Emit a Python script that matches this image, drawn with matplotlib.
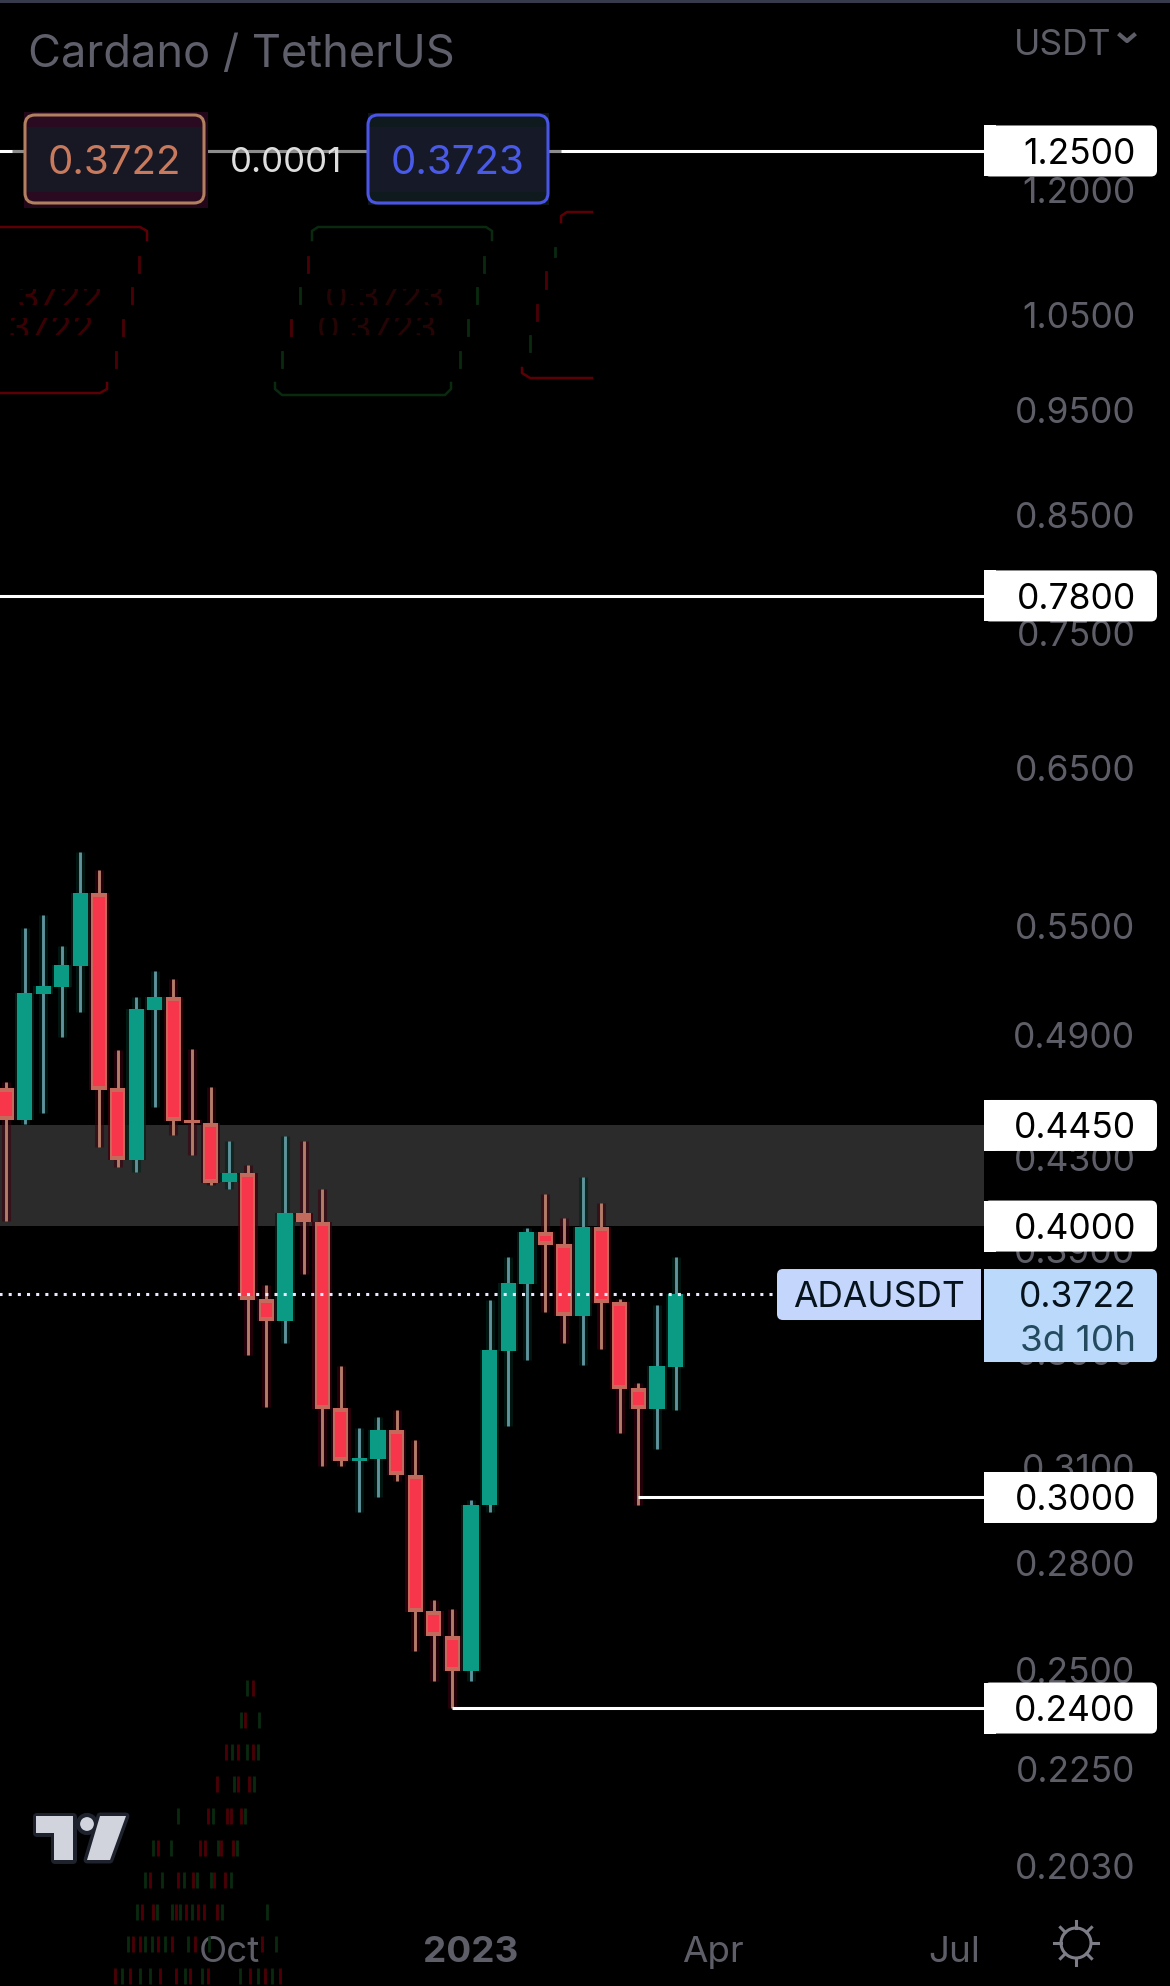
import matplotlib
matplotlib.use("Agg")
import matplotlib.pyplot as plt
from matplotlib.patches import FancyBboxPatch, Rectangle, Polygon, Circle
from matplotlib.ticker import FixedLocator, FixedFormatter, NullLocator
from matplotlib.transforms import Bbox
import numpy as np

plt.rcParams['font.family'] = ['Inter', 'DejaVu Sans']

# weekly candles, one week per step on the x axis
opens = [0.4630, 0.4476, 0.5115, 0.5153, 0.5269, 0.5693, 0.4630, 0.4290, 0.5029, 0.5099, 0.4476, 0.4462, 0.4191,
         0.4231, 0.3702, 0.3617, 0.4055, 0.4017, 0.3298, 0.3118, 0.3125, 0.3222, 0.3073, 0.2660, 0.2591, 0.2496,
         0.2976, 0.3504, 0.3762, 0.3975, 0.3925, 0.3636, 0.3996, 0.3691, 0.3369, 0.3295, 0.3445]
highs = [0.4660, 0.5485, 0.5562, 0.5382, 0.5946, 0.5833, 0.4820, 0.5099, 0.5241, 0.5197, 0.4825, 0.4635, 0.4377,
         0.4267, 0.3758, 0.4400, 0.4377, 0.4160, 0.3449, 0.3229, 0.3267, 0.3291, 0.3189, 0.2691, 0.2666, 0.2992,
         0.3698, 0.3871, 0.3992, 0.4138, 0.4034, 0.4213, 0.4099, 0.3702, 0.3387, 0.3679, 0.3871]
lows = [0.4021, 0.4457, 0.4509, 0.4887, 0.5018, 0.4350, 0.4258, 0.4236, 0.4538, 0.4405, 0.4313, 0.4178, 0.4160,
        0.3489, 0.3302, 0.3534, 0.3802, 0.3102, 0.3102, 0.2954, 0.3001, 0.3053, 0.2550, 0.2470, 0.2400, 0.2470,
        0.2954, 0.3236, 0.3471, 0.3652, 0.3534, 0.3452, 0.3511, 0.3212, 0.2976, 0.3158, 0.3291]
closes = [0.4476, 0.5120, 0.5159, 0.5275, 0.5693, 0.4620, 0.4290, 0.5034, 0.5099, 0.4471, 0.4462, 0.4187, 0.4231,
          0.3698, 0.3617, 0.4055, 0.4017, 0.3295, 0.3118, 0.3128, 0.3222, 0.3073, 0.2657, 0.2591, 0.2496, 0.2976,
          0.3508, 0.3766, 0.3975, 0.3920, 0.3636, 0.3996, 0.3687, 0.3366, 0.3295, 0.3449, 0.3722]

axis_prices = [1.2, 1.05, 0.95, 0.85, 0.75, 0.65, 0.55, 0.49, 0.43, 0.39, 0.35, 0.31, 0.28, 0.25, 0.225, 0.203]
axis_labels = ['1.2000', '1.0500', '0.9500', '0.8500', '0.7500', '0.6500', '0.5500', '0.4900', '0.4300', '0.3900',
               '0.3500', '0.3100', '0.2800', '0.2500', '0.2250', '0.2030']
week_ticks = [12, 25, 38, 51]
week_labels = ['Oct', '2023', 'Apr', 'Jul']

full_levels = [1.25, 0.78]
swing_levels = [0.30, 0.24]
swing_starts = [34, 24]
zone_low, zone_high = 0.40, 0.445
tag_levels = [1.25, 0.78, 0.445, 0.40, 0.30, 0.24]
tag_labels = ['1.2500', '0.7800', '0.4450', '0.4000', '0.3000', '0.2400']
last_price = 0.3722

GREEN = '#0b9a84'
RED = '#f7364c'
RED_EDGE = '#c26a5c'
GREEN_WICK = '#5f929b'
RED_WICK = '#b27c68'
TICK = '#5e5e68'
W, H = 1170, 1986

fig = plt.figure(figsize=(W / 100, H / 100), dpi=100, facecolor='black')
ax = fig.add_axes([0, 0, 984 / W, 1], facecolor='black')
ax.set_yscale('log')
ax.set_ylim(0.24 * np.exp(-278 / 943.6), 1.25 * np.exp(151 / 943.6))
ax.set_xlim(-6 / 18.6, 978 / 18.6)

ax.axhspan(zone_low, zone_high, color='#2b2b2b', lw=0, zorder=1)

weeks = np.arange(len(opens))
o, h, l, c = map(np.array, (opens, highs, lows, closes))
up = c >= o
top = np.maximum(o, c)
bot = np.minimum(o, c)

# faint colour halo the chart has around every candle
ax.bar(weeks[~up], top[~up] - bot[~up], bottom=bot[~up], width=1.05, color='#3c0010', alpha=0.75, lw=0, zorder=2)
ax.bar(weeks[up], top[up] - bot[up], bottom=bot[up], width=1.05, color='#00241a', alpha=0.75, lw=0, zorder=2)
ax.vlines(weeks[~up], l[~up], h[~up], color='#3c0010', lw=6.5, alpha=0.6, zorder=2)
ax.vlines(weeks[up], l[up], h[up], color='#00241a', lw=6.5, alpha=0.6, zorder=2)

ax.vlines(weeks[~up], l[~up], h[~up], color=RED_WICK, lw=2.1, zorder=3)
ax.vlines(weeks[up], l[up], h[up], color=GREEN_WICK, lw=2.1, zorder=3)
ax.bar(weeks[~up], top[~up] - bot[~up], bottom=bot[~up], width=0.82, color=RED_EDGE, lw=0, zorder=4)
core = ~up & (top / bot > 1.01)
ax.bar(weeks[core], top[core] / 1.004 - bot[core] * 1.004, bottom=bot[core] * 1.004, width=0.6, color=RED, lw=0,
       zorder=5)
ax.bar(weeks[up], top[up] - bot[up], bottom=bot[up], width=0.82, color=GREEN, lw=0, zorder=4)

for lev in full_levels:
    ax.axhline(lev, color='white', lw=2.2, zorder=6)
for lev, start in zip(swing_levels, swing_starts):
    ax.plot([start, 60], [lev, lev], color='white', lw=2.2, zorder=6, solid_capstyle='butt')
ax.plot([-1, 41.45], [last_price, last_price], color='#ece8ff', lw=2.2, ls=(0, (1, 2)), zorder=7)

# axes ticks sit inside the picture, no spines at all
for s in ax.spines.values():
    s.set_visible(False)
ax.yaxis.tick_right()
ax.yaxis.set_major_locator(FixedLocator(axis_prices))
ax.yaxis.set_major_formatter(FixedFormatter(axis_labels))
ax.yaxis.set_minor_locator(NullLocator())
ax.tick_params(axis='y', length=0, pad=109, labelcolor=TICK, labelsize=25.5)
for t in ax.get_yticklabels():
    t.set_ha('right')
ax.set_xticks(week_ticks, week_labels)
ax.tick_params(axis='x', length=0, pad=-36, labelcolor=TICK, labelsize=26.5)
ax.get_xticklabels()[1].set_fontweight('bold')

# overlay in picture pixels for tags, header and logo
ov = fig.add_axes([0, 0, 1, 1], facecolor='none')
ov.set_xlim(0, W)
ov.set_ylim(H, 0)
ov.axis('off')


def price_y(p):
    return H - ax.transData.transform((0, p))[1]


def tag(x0, x1, y0, y1, color, round_side='right'):
    ov.add_patch(FancyBboxPatch((x0 + 6, y0 + 6), x1 - x0 - 12, y1 - y0 - 12, boxstyle='round,pad=6,rounding_size=6',
                                fc=color, ec='none', zorder=10))
    if round_side == 'right':
        ov.add_patch(Rectangle((x0, y0), 12, y1 - y0, fc=color, ec='none', zorder=10))
    else:
        ov.add_patch(Rectangle((x1 - 12, y0), 12, y1 - y0, fc=color, ec='none', zorder=10))


for lev, lab in zip(tag_levels, tag_labels):
    y = price_y(lev)
    tag(984, 1157, y - 25.5, y + 25.5, 'white')
    ov.text(1136, y, lab, color='black', fontsize=25.5, ha='right', va='center_baseline', zorder=11)

y = price_y(last_price)
tag(984, 1157, y - 25, y + 68, '#bbd9fb')
tag(777, 981, y - 25, y + 26, '#c4d6fb', round_side='left')
ov.text(879, y, 'ADAUSDT', color='#06121c', fontsize=25.5, ha='center', va='center_baseline', zorder=11)
ov.text(1136, y, '0.3722', color='#06121c', fontsize=25.5, ha='right', va='center_baseline', zorder=11)
ov.text(1136, y + 44, '3d 10h', color='#234a5e', fontsize=26.5, ha='right', va='center_baseline', zorder=11)

# header
ov.add_patch(Rectangle((0, 0), W, 2.5, fc='#363a4a', ec='none', zorder=10))
ov.text(28, 51, 'Cardano / TetherUS', color='#5f5f6b', fontsize=32.5, ha='left', va='center_baseline', zorder=11)
ov.text(1014, 42, 'USDT', color=TICK, fontsize=25.5, ha='left', va='center_baseline', zorder=11)
ov.plot([1120, 1127, 1134], [35, 41, 35], color=TICK, lw=3, zorder=11)

y125 = price_y(1.25)
for x0, x1 in [(12, 26), (203, 369), (547, 561)]:
    ov.plot([x0, x1], [y125, y125], color='#8c8c8c', lw=2.2, solid_capstyle='butt', zorder=8)

# the two quote boxes
ov.add_patch(Rectangle((24, 112), 184, 96, fc='#22061a', ec='none', zorder=8))
ov.add_patch(FancyBboxPatch((33, 123), 163, 72, boxstyle='round,pad=8,rounding_size=10', fc='#2a0a20', ec='#b0805f',
                            lw=2.2, zorder=9))
ov.add_patch(Rectangle((27, 127), 175, 65, fc='#181825', ec='none', zorder=9))
ov.add_patch(Rectangle((368, 113), 181, 92, fc='#0b1518', ec='none', zorder=8))
ov.add_patch(FancyBboxPatch((376, 123), 164, 72, boxstyle='round,pad=8,rounding_size=10', fc='#0f1a1f', ec='#4a55e8',
                            lw=2.2, zorder=9))
ov.add_patch(Rectangle((370, 127), 176, 65, fc='#161a28', ec='none', zorder=9))
ov.text(114.5, 159, '0.3722', color='#c9795c', fontsize=29, ha='center', va='center_baseline', zorder=11)
ov.text(458, 159, '0.3723', color='#4a5ae8', fontsize=29, ha='center', va='center_baseline', zorder=11)
ov.text(286, 159, '0.0001', color='#dedede', fontsize=25, ha='center', va='center_baseline', zorder=11)

# leftovers of the old boxes, scanline fragments in dark red and green
DARK_RED = '#4c0006'
DARK_GREEN = '#0a2a10'
ghost_sides = [
    (139, 257, 272, DARK_RED), (132, 288, 303, DARK_RED), (123, 320, 335, DARK_RED), (116, 352, 367, DARK_RED),
    (484, 257, 272, DARK_GREEN), (477, 288, 303, DARK_GREEN), (468, 320, 335, DARK_GREEN), (460, 352, 367, DARK_GREEN),
    (308, 257, 272, DARK_RED), (300, 288, 303, DARK_GREEN), (291, 320, 335, DARK_RED), (282, 352, 367, DARK_GREEN),
    (555, 248, 256, DARK_GREEN), (546, 272, 288, DARK_RED), (537, 305, 320, DARK_RED), (530, 336, 351, DARK_GREEN),
]
for gx, gy0, gy1, col in ghost_sides:
    ov.plot([gx, gx], [gy0, gy1], color=col, lw=2, zorder=2)
ov.plot([0, 140, 147, 147], [227, 227, 231, 240], color='#5c0006', lw=1.8, zorder=2)
ov.plot([0, 100, 107, 107], [393, 393, 389, 383], color='#5c0006', lw=1.8, zorder=2)
ov.plot([312, 312, 318, 486, 492, 492], [240, 231, 227, 227, 231, 240], color=DARK_GREEN, lw=1.8, zorder=2)
ov.plot([275, 275, 282, 445, 451, 451], [383, 389, 395, 395, 389, 383], color=DARK_GREEN, lw=1.8, zorder=2)
ov.plot([561, 561, 567, 592], [222, 216, 212, 212], color='#5c0006', lw=1.8, zorder=2)
ov.plot([522, 522, 530, 592], [368, 373, 378, 378], color='#5c0006', lw=1.8, zorder=2)
for txt, tx, ty, clip_y0, clip_y1, col in [('3722', 60, 296, 289, 305, '#3a0004'), ('3722', 51, 327, 318, 335, '#3a0004'),
                                           ('0.3723', 385, 296, 289, 305, '#240404'),
                                           ('0.3723', 377, 327, 318, 335, '#240404')]:
    t = ov.text(tx, ty, txt, color=col, fontsize=26, ha='center', va='center_baseline', zorder=2)
    t.set_clip_on(True)
    t.set_clip_box(Bbox([[0, H - clip_y1], [592, H - clip_y0]]))
ghost_rows = [
    (1680, [247], [253]),
    (1712, [241, 259], [245]),
    (1744, [232, 247, 258], [226, 238, 253]),
    (1776, [234, 254], [217, 238, 249]),
    (1808, [178, 213, 245], [208, 227, 231, 241]),
    (1840, [153, 171, 218, 237], [158, 200, 205, 221, 233]),
    (1872, [145, 162, 184, 197, 211, 231], [150, 178, 193, 214, 225]),
    (1904, [137, 157, 172, 180, 192, 222, 267], [142, 153, 176, 186, 198, 204, 217]),
    (1936, [128, 145, 152, 165, 188, 209, 276], [133, 140, 158, 172, 195, 262]),
    (1968, [122, 140, 150, 185, 202, 240, 258, 272], [115, 130, 160, 176, 190, 208, 250, 265, 280]),
]
for gy, greens, reds in ghost_rows:
    ov.vlines(greens, gy, gy + 16, color=DARK_GREEN, lw=2, zorder=2)
    ov.vlines(reds, gy, gy + 16, color=DARK_RED, lw=2, zorder=2)

# TradingView mark
LOGO = '#d1d4dc'
LOGO_EDGE = '#1e222d'
t_shape = [(36, 1816), (73, 1816), (73, 1860), (54, 1860), (54, 1833), (36, 1833)]
slash = [(100, 1816), (126, 1816), (110, 1860), (87, 1860)]
ov.add_patch(Polygon(t_shape, closed=True, fc=LOGO, ec=LOGO_EDGE, lw=5, joinstyle='round', zorder=11))
ov.add_patch(Polygon(slash, closed=True, fc=LOGO, ec=LOGO_EDGE, lw=5, joinstyle='round', zorder=11))
ov.add_patch(Circle((87, 1824), 9, fc=LOGO, ec=LOGO_EDGE, lw=3, zorder=11))
ov.add_patch(Polygon(t_shape, closed=True, fc=LOGO, ec='none', zorder=12))
ov.add_patch(Polygon(slash, closed=True, fc=LOGO, ec='none', zorder=12))

# theme switch icon
ICON = '#7d7d87'
ov.add_patch(Circle((1076, 1943), 15, fc='none', ec=ICON, lw=2.2, zorder=11))
for a in np.deg2rad(np.arange(0, 360, 45)):
    ov.plot([1076 + 15 * np.cos(a), 1076 + 22 * np.cos(a)], [1943 + 15 * np.sin(a), 1943 + 22 * np.sin(a)],
            color=ICON, lw=2.2, zorder=11)

fig.savefig('out.png', dpi=100, facecolor='black')
